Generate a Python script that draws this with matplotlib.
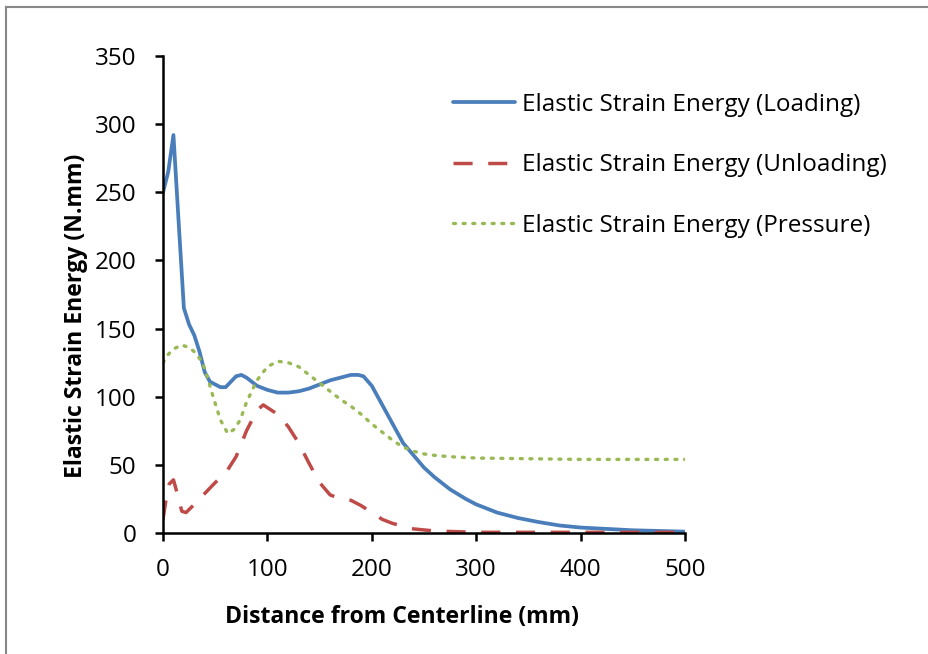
## Elastic strain energy vs distance from centerline
import matplotlib
matplotlib.use('Agg')
import matplotlib.pyplot as plt
from matplotlib.lines import Line2D

plt.rcParams['font.family'] = ['Open Sans', 'DejaVu Sans']

## data
x_load = [0, 5, 10, 15, 20, 25, 30, 35, 40, 45, 50, 55, 60, 65, 70, 75, 80, 90,
          100, 110, 120, 130, 140, 150, 160, 170, 180, 187, 192, 200, 210, 220,
          230, 240, 250, 260, 275, 290, 300, 320, 340, 360, 380, 400, 425, 450,
          475, 500]
y_load = [250, 265, 292, 228, 165, 153, 145, 133, 118, 111, 109, 107, 107, 111,
          115, 116, 114, 108, 105, 103, 103, 104, 106, 109, 112, 114, 116, 116,
          115, 108, 94, 80, 66, 57, 48, 41, 32, 25, 21, 15, 11, 8, 5.5, 4, 3, 2,
          1.5, 1]

x_unload = [0, 3, 6, 10, 14, 18, 22, 30, 40, 50, 60, 70, 80, 90, 96, 100, 110,
            120, 130, 140, 150, 160, 170, 180, 190, 200, 210, 220, 230, 240, 260,
            280, 300, 350, 400, 450, 500]
y_unload = [10, 25, 36, 39, 28, 16, 15, 21, 29, 37, 44, 56, 75, 90, 94, 92, 87,
            78, 66, 51, 37, 28, 25, 24, 20, 15, 10, 7, 5, 3, 1.5, 1, 0.5, 0.5,
            0.5, 0.5, 0.5]

x_press = [0, 5, 10, 18, 25, 30, 38, 43, 48, 55, 62, 68, 74, 80, 90, 100, 110,
           120, 130, 140, 150, 160, 170, 180, 190, 200, 210, 220, 230, 240, 250,
           260, 275, 300, 350, 400, 450, 500]
y_press = [125, 131, 135, 138, 136, 133, 125, 113, 100, 83, 73, 76, 83, 96, 112,
           122, 126, 125, 122, 116, 110, 104, 98, 93, 87, 80, 74, 68, 63, 60, 58,
           57, 56, 55, 54.5, 54, 54, 54]

labels = ['Elastic Strain Energy (Loading)',
          'Elastic Strain Energy (Unloading)',
          'Elastic Strain Energy (Pressure)']
xticks = [0, 100, 200, 300, 400, 500]
yticks = [0, 50, 100, 150, 200, 250, 300, 350]

fig = plt.figure(figsize=(9.29, 6.54), dpi=100)
ax = fig.add_axes([163/929, 1-533/654, 522/929, 477/654])

ax.plot(x_load, y_load, color='#4a7ebb', lw=2.7, label=labels[0],
        solid_capstyle='round', solid_joinstyle='round')
ax.plot(x_unload, y_unload, color='#be4b48', lw=2.5, label=labels[1],
        dashes=(5.5, 4.5))
ax.plot(x_press, y_press, color='#98b954', lw=2.4, label=labels[2],
        dashes=(0.6, 2.3), dash_capstyle='round')

ax.set_xlim(0, 500)
ax.set_ylim(0, 350)
ax.set_xticks(xticks)
ax.set_yticks(yticks)
ax.tick_params(direction='out', length=6, width=1.8, labelsize=17.5)
ax.tick_params(axis='y', pad=13)
ax.tick_params(axis='x', pad=12)
for s in ['top', 'right']:
    ax.spines[s].set_visible(False)
for s in ['left', 'bottom']:
    ax.spines[s].set_linewidth(1.8)
ax.set_xlabel('Distance from Centerline (mm)', fontsize=16.6, fontweight='bold')
ax.set_ylabel('Elastic Strain Energy (N.mm)', fontsize=16.6, fontweight='bold')
ax.xaxis.set_label_coords(0.458, -0.151)
ax.yaxis.set_label_coords(-0.144, 0.455)

ax.legend(loc='upper left', bbox_to_anchor=(453/929, 1-93/654),
          bbox_transform=fig.transFigure, frameon=False, fontsize=17.5,
          handlelength=2.55, handletextpad=0.29, labelspacing=1.5,
          borderpad=0, borderaxespad=0)

## gray border of the original picture (top and left only)
fig.add_artist(Line2D([6/929, 1], [1-7/654, 1-7/654], color='#888888', lw=1.5))
fig.add_artist(Line2D([6/929, 6/929], [0, 1-7/654], color='#888888', lw=1.5))

fig.savefig('out.png', dpi=100)
